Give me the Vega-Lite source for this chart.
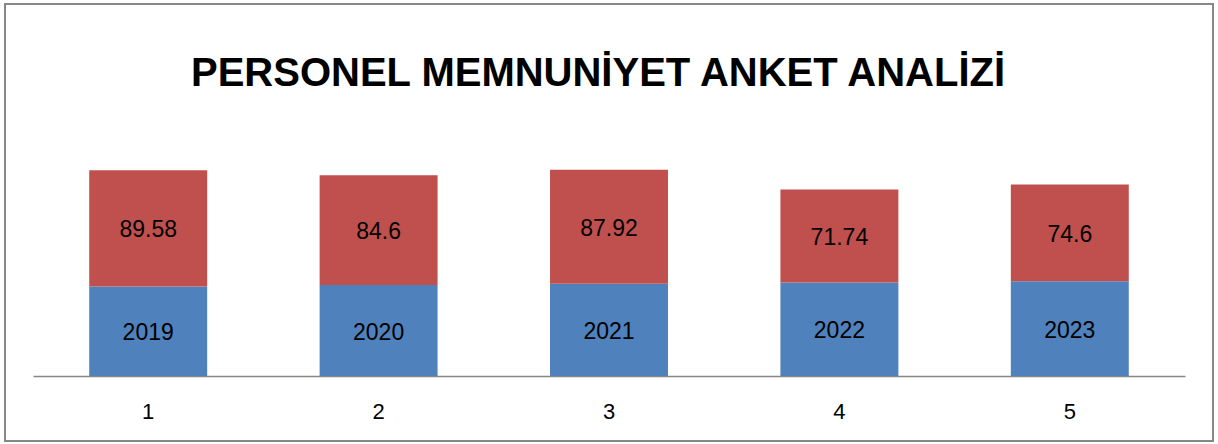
{
  "$schema": "https://vega.github.io/schema/vega-lite/v6.json",
  "autosize": {"type": "none"},
  "padding": {"left": 5, "top": 4, "right": 5, "bottom": 3},
  "width": 1208,
  "height": 437,
  "background": "white",
  "title": {
    "text": "PERSONEL MEMNUNİYET ANKET ANALİZİ",
    "font": "Liberation Sans",
    "fontSize": 40,
    "fontWeight": "bold",
    "color": "#000000",
    "anchor": "middle",
    "baseline": "alphabetic",
    "offset": 0,
    "dx": -11,
    "dy": 122
  },
  "config": {
    "view": {"stroke": "#878787", "strokeWidth": 2},
    "font": "Liberation Sans"
  },
  "data": {
    "values": [
      {"cat": "1", "year": 2019, "score": 89.58},
      {"cat": "2", "year": 2020, "score": 84.6},
      {"cat": "3", "year": 2021, "score": 87.92},
      {"cat": "4", "year": 2022, "score": 71.74},
      {"cat": "5", "year": 2023, "score": 74.6}
    ]
  },
  "transform": [
    {"calculate": "datum.year + datum.score", "as": "top"},
    {"calculate": "(datum.year + 1950) / 2", "as": "yearMid"},
    {"calculate": "datum.year + datum.score / 2", "as": "scoreMid"}
  ],
  "encoding": {
    "x": {
      "field": "cat",
      "type": "ordinal",
      "scale": {"range": [28, 1180], "paddingInner": 0.488, "paddingOuter": 0.244},
      "axis": {
        "title": null,
        "labelAngle": 0,
        "ticks": false,
        "grid": false,
        "offset": -65,
        "domainColor": "#868686",
        "domainWidth": 1.5,
        "labelFont": "Liberation Sans",
        "labelFontSize": 22,
        "labelColor": "#000000",
        "labelPadding": 25
      }
    }
  },
  "layer": [
    {
      "mark": {"type": "bar", "color": "#4F81BD"},
      "encoding": {
        "y": {
          "field": "year",
          "type": "quantitative",
          "scale": {"domain": [1899.9, 2236.6], "nice": false, "zero": false},
          "axis": null
        },
        "y2": {"datum": 1950}
      }
    },
    {
      "mark": {"type": "bar", "color": "#C0504D"},
      "encoding": {
        "y": {"field": "top", "type": "quantitative"},
        "y2": {"field": "year"}
      }
    },
    {
      "mark": {"type": "text", "fontSize": 23, "color": "#000000", "baseline": "middle", "dy": 2},
      "encoding": {
        "y": {"field": "yearMid", "type": "quantitative"},
        "text": {"field": "year", "type": "nominal"}
      }
    },
    {
      "mark": {"type": "text", "fontSize": 23, "color": "#000000", "baseline": "middle", "dy": 2},
      "encoding": {
        "y": {"field": "scoreMid", "type": "quantitative"},
        "text": {"field": "score", "type": "nominal"}
      }
    }
  ]
}
